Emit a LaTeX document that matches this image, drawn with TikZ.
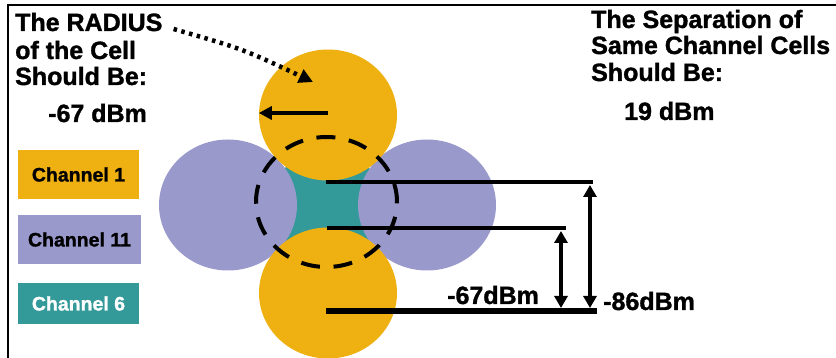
\documentclass[tikz,border=0pt]{standalone}
\usepackage{fontspec}
\setmainfont{Liberation Sans}[BoldFeatures={FakeBold=1.3}]
\usepackage{tikz}
\usetikzlibrary{shapes.geometric,  % ellipses for the cells
           arrows.meta,
           positioning}
\definecolor{cellorange}{RGB}{238,177,17}
\definecolor{cellpurple}{RGB}{153,153,204}
\definecolor{cellteal}{RGB}{51,153,153}

\begin{document}
\begin{tikzpicture}[x=1pt,y=-1pt,
  cell/.style={ellipse,inner sep=0pt,minimum width=138pt,minimum height=131pt},
  hdr/.style={inner sep=0pt,anchor=base west,font=\fontsize{25}{27}\selectfont\bfseries},
  key/.style={inner sep=0pt,font=\fontsize{19.5}{21}\selectfont\bfseries},
  lvl/.style={line width=4.5pt},
  dbl/.style={line width=4pt,{Triangle[length=12pt,width=13pt]}-{Triangle[length=12pt,width=13pt]}}]
\useasboundingbox(0,0)rectangle(836,358);
\draw[line width=2pt](8,358)--(8,5)--(836,5);
% cells
\node[circle,fill=cellteal,minimum size=112pt,inner sep=0pt](mid)at(327,205){};
\node[cell,fill=cellpurple](west)at(228,205){};
\node[cell,fill=cellpurple](east)at(427,205){};
\node[cell,fill=cellorange](north)at(328,115){};
\node[cell,fill=cellorange](south)at(328,293){};
\draw[line width=4pt,dash pattern=on 19pt off 13.7pt,dash phase=17.7pt](326.5,202)ellipse[x radius=70.5,y radius=65];
% key
\node[key,fill=cellorange,minimum width=121pt,minimum height=49pt](ch1)at(78.5,174.5){Channel 1};
\node[key,fill=cellpurple,minimum width=123pt,minimum height=49pt](ch11)at(79.5,239.5){Channel 11};
\node[key,fill=cellteal,text=white,minimum width=121pt,minimum height=41pt](ch6)at(78.5,303.5){Channel 6};
% texts
\node[hdr](radA)at(15,31){The RADIUS};
\node[hdr](radB)at(15,59){of the Cell};
\node[hdr](radC)at(15,85){Should Be:};
\node[hdr](radV)at(48,122){-67 dBm};
\node[hdr](sepA)at(591,28){The Separation of};
\node[hdr](sepB)at(591,54){Same Channel Cells};
\node[hdr](sepC)at(591,81){Should Be:};
\node[hdr](sepV)at(624,120){19 dBm};
\coordinate(radTip)at(313,82);
\draw[line width=4.5pt,dash pattern=on 3.5pt off 4.5pt,-{Triangle[length=14pt,width=14pt]}]
  ([xshift=11pt,yshift=2pt]radA.base east)..controls(243,49)..(radTip);
\draw[line width=4pt,-{Triangle[length=13pt,width=13pt]}]([yshift=2pt]north.center)--([yshift=2pt]north.west);
% levels
\coordinate(l1a)at(326,182);\coordinate(l1b)at(593,182);
\coordinate(l2a)at(327,228);\coordinate(l2b)at(566,228);
\coordinate(l3a)at(326,311);\coordinate(l3b)at(597,311);
\draw[lvl](l1a)--(l1b);
\draw[lvl](l2a)--(l2b);
\draw[lvl,line width=6pt](l3a)--(l3b);
\coordinate(a1t)at(561,231);\coordinate(a1b)at(561,308);
\coordinate(a2t)at(590,185);\coordinate(a2b)at(590,308);
\draw[dbl](a1t)--(a1b);
\draw[dbl](a2t)--(a2b);
\node[hdr](dbA)at(447,304){-67dBm};
\node[hdr](dbB)at(603,310){-86dBm};
\end{tikzpicture}
\end{document}
